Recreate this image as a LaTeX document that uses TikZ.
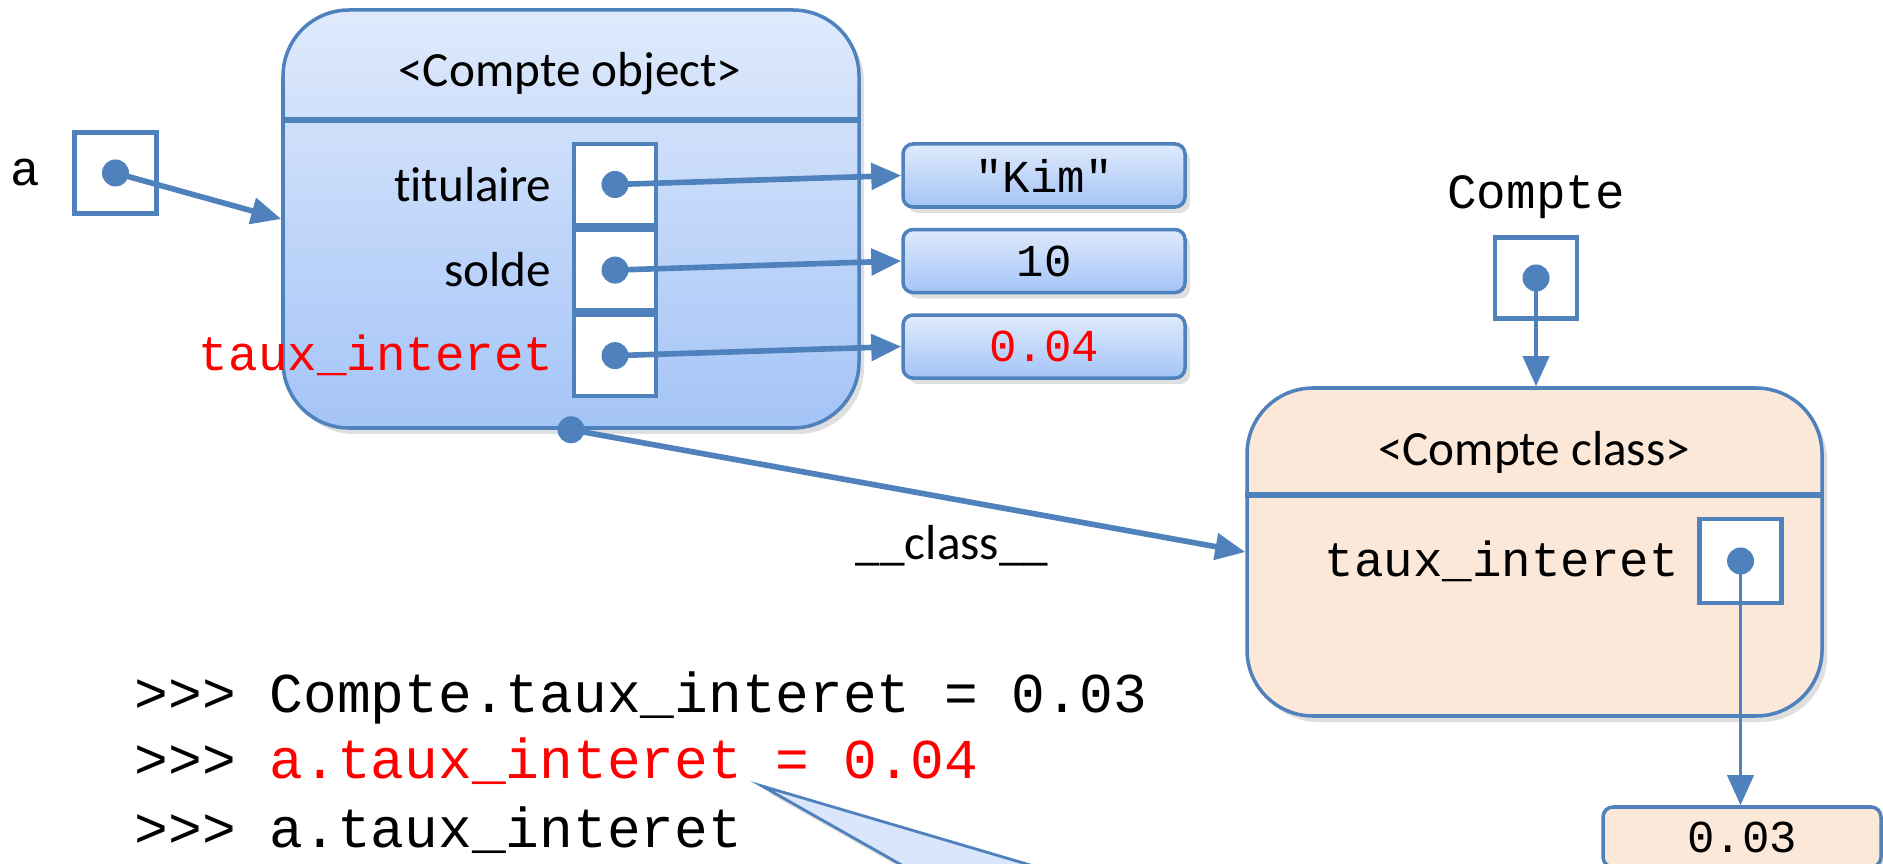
\documentclass[tikz,border=0pt]{standalone}
\usepackage{fontspec}
\setmainfont{Carlito}[Ligatures=NoCommon]
\setmonofont{Liberation Mono}
\usetikzlibrary{positioning,arrows.meta,shadows}
\definecolor{lineblue}{RGB}{79,129,189}
\definecolor{objtop}{RGB}{223,234,252}
\definecolor{objbot}{RGB}{164,196,247}
\definecolor{clsfill}{RGB}{252,232,216}
\definecolor{tipfill}{RGB}{218,230,251}
\tikzset{>={Triangle[length=0.3cm,width=0.26cm]}}
\tikzset{
  ref/.style={draw=lineblue, line width=1.3pt, fill=white, minimum width=0.82cm, minimum height=0.81cm, inner sep=0pt},
  refdot/.style={circle, fill=lineblue, inner sep=0pt, minimum size=0.27cm},
  ptr/.style={->, draw=lineblue, line width=1.6pt},
  softshadow/.style={drop shadow={opacity=0.25, shadow xshift=0.05cm, shadow yshift=-0.06cm}},
  bigbox/.style={draw=lineblue, line width=1pt, rounded corners=0.66cm, softshadow},
  valbox/.style={draw=lineblue, line width=1pt, rounded corners=0.1cm, minimum width=2.82cm, minimum height=0.63cm, softshadow, font=\ttfamily\fontsize{13}{15}\selectfont},
  txt/.style={font=\fontsize{14}{16}\selectfont},
  mono/.style={font=\ttfamily\fontsize{14}{16}\selectfont},
  code/.style={font=\ttfamily\fontsize{16}{18}\selectfont, anchor=base west, inner sep=0pt}
}

\begin{document}
\begin{tikzpicture}
  \path[use as bounding box, fill=white] (0,0) rectangle (18.83,-8.64);
  \clip (0,0) rectangle (18.83,-8.64);

  % instance
  \node[bigbox, top color=objtop, bottom color=objbot, minimum width=5.76cm, minimum height=4.18cm] (obj) at (5.71,-2.19) {};
  \node[txt] (objhead) at (5.70,-0.74) {<Compte object>};
  \coordinate (objsep) at (0,-1.20);
  \draw[lineblue, line width=1.8pt] (obj.west |- objsep) -- (obj.east |- objsep);
  \node[ref] (s1) at (6.15,-1.845) {};
  \node[ref, below=0pt of s1] (s2) {};
  \node[ref, below=0pt of s2] (s3) {};
  \node[refdot] (d1) at (s1) {};
  \node[refdot] (d2) at (s2) {};
  \node[refdot] (d3) at (s3) {};
  \node[txt, left=0.08cm of s1] (l1) {titulaire};
  \node[txt, left=0.08cm of s2] (l2) {solde};
  \node[mono, text=red, left=0.06cm of s3] (l3) {taux\_interet};

  \node[ref] (abox) at (1.155,-1.73) {};
  \node[refdot] (adot) at (abox) {};
  \node[mono, left=0.2cm of abox] (alabel) {a};
  \draw[ptr] (adot.center) -- (obj.west);

  \node[valbox, top color=objtop, bottom color=objbot] (v1) at (10.44,-1.755) {"Kim"};
  \node[valbox, top color=objtop, bottom color=objbot, below=0.19cm of v1] (v2) {10};
  \node[valbox, top color=objtop, bottom color=objbot, below=0.19cm of v2, text=red] (v3) {0.04};
  \draw[ptr] (d1.center) -- (v1.west);
  \draw[ptr] (d2.center) -- (v2.west);
  \draw[ptr] (d3.center) -- (v3.west);

  % class
  \node[bigbox, fill=clsfill, minimum width=5.75cm, minimum height=3.28cm] (cls) at (15.345,-5.52) {};
  \node[txt] (clshead) at (15.34,-4.52) {<Compte class>};
  \coordinate (clssep) at (0,-4.95);
  \draw[lineblue, line width=1.8pt] (cls.west |- clssep) -- (cls.east |- clssep);
  \node[ref, minimum height=0.84cm] (cs) at (17.405,-5.61) {};
  \node[refdot] (dcs) at (cs) {};
  \node[mono, left=0.06cm of cs] (lcs) {taux\_interet};

  \node[ref] (cb) at (15.36,-2.78) {};
  \node[refdot] (dcb) at (cb) {};
  \node[mono, above=0.04cm of cb] (cname) {Compte};
  \draw[ptr, line width=1.1pt] (dcb.center) -- (dcb |- cls.north);

  \node[valbox, fill=clsfill, minimum width=2.78cm, minimum height=0.6cm] (v4) at (17.42,-8.37) {0.03};
  \draw[ptr, line width=1.1pt] (dcs.center) -- (dcs |- v4.north);

  \node[refdot] (dobj) at (obj.south) {};
  \draw[ptr] (dobj.center) -- (cls.west);
  \node[txt] (clslbl) at (9.52,-5.46) {\_\_class\_\_};

  % session
  \filldraw[draw=lineblue, fill=tipfill, line width=0.8pt, softshadow] (7.62,-7.86) -- (9.28,-8.80) -- (10.81,-8.80) -- cycle;
  \node[code] (c1) at (1.34,-7.12) {>>> Compte.taux\_interet = 0.03};
  \node[code] (c2) at (1.34,-7.78) {>>> \textcolor{red}{a.taux\_interet = 0.04}};
  \node[code] (c3) at (1.34,-8.47) {>>> a.taux\_interet};
\end{tikzpicture}
\end{document}
